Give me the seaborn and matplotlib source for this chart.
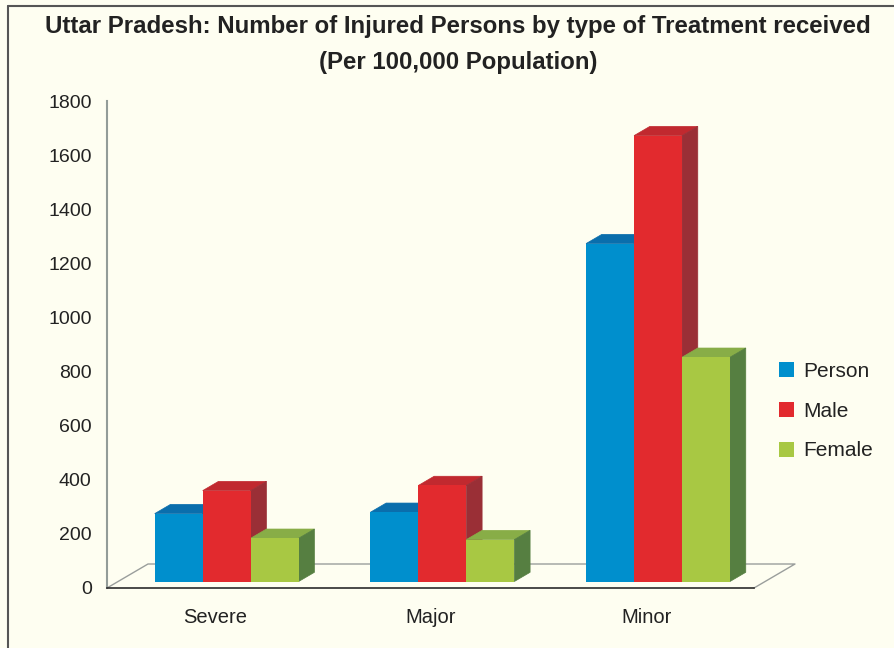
import pandas as pd
import numpy as np
import matplotlib
matplotlib.use("Agg")
import matplotlib.pyplot as plt
from matplotlib.patches import Polygon, Patch
from matplotlib.lines import Line2D
import seaborn as sns

# datos
categorias = ["Severe", "Major", "Minor"]
series = ["Person", "Male", "Female"]
person = [251, 256, 1249]
male = [336, 355, 1648]
female = [160, 155, 829]

frente = ['#008fcd', '#e22a2e', '#a8c843']
tapa = ['#0a6eac', '#c1292f', '#88ad47']
lado = ['#06659c', '#9a2f36', '#567f41']
fondo = '#fefef1'

sns.set_style("white")
plt.rcParams['font.family'] = ['Liberation Sans', 'DejaVu Sans']

df = pd.DataFrame({
    "cat": categorias * 3,
    "serie": ["Person"] * 3 + ["Male"] * 3 + ["Female"] * 3,
    "valor": person + male + female,
})

fig = plt.figure(figsize=(8.94, 6.48), dpi=100, facecolor=fondo)
ax = fig.add_axes([107/894, 60/648, 689/894, 487/648])
ax.set_facecolor(fondo)

sns.barplot(data=df, x="cat", y="valor", hue="serie", hue_order=series,
            palette=frente, saturation=1, width=0.6675, errorbar=None,
            linewidth=0, legend=False, ax=ax)

# efecto 3d
off_x, off_y = 0.055, 24     # la barra esta un poco dentro del piso
dx, dy = 0.073, 34          # profundidad de la barra
piso_x, piso_y = 0.19, 88.7  # profundidad del piso

for j, cont in enumerate(ax.containers):
    for p in cont.patches:
        p.set_x(p.get_x() + off_x)
        p.set_y(off_y)
        p.set_zorder(3)
        x0 = p.get_x()
        x1 = x0 + p.get_width()
        b = off_y
        h = b + p.get_height()
        top = Polygon([(x0, h), (x0 + dx, h + dy), (x1 + dx, h + dy), (x1, h)],
                      closed=True, fc=tapa[j], ec=tapa[j], lw=0.5, zorder=2)
        side = Polygon([(x1, b), (x1 + dx, b + dy), (x1 + dx, h + dy), (x1, h)],
                       closed=True, fc=lado[j], ec=lado[j], lw=0.5, zorder=2)
        ax.add_patch(top)
        ax.add_patch(side)

# piso
ax.plot([-0.5, -0.5 + piso_x, 2.5 + piso_x, 2.5], [0, piso_y, piso_y, 0],
        color='#9a9e9c', lw=1, zorder=1, clip_on=False)

ax.set_xlim(-0.5, -0.5 + 689/215.67)
ax.set_ylim(0, 1800)
ax.set_yticks(range(0, 1801, 200))
ax.set_xticks([-0.5, 0.5, 1.5, 2.5], labels=[])
ax.set_xticks([0, 1, 2], labels=categorias, minor=True)
ax.tick_params(axis='x', which='major', direction='out', length=6.5, width=1.2, color='#2b2b2b')
ax.tick_params(axis='x', which='minor', length=0, pad=14.5, labelsize=14.5, labelcolor='#222222')
ax.tick_params(axis='y', direction='out', length=7.2, width=1.2, color='#939c98',
               pad=3.8, labelsize=14, labelcolor='#222222')
ax.set_xlabel("")
ax.set_ylabel("")

for s in ['top', 'right']:
    ax.spines[s].set_visible(False)
ax.spines['left'].set_color('#939c98')
ax.spines['left'].set_linewidth(1.5)
ax.spines['bottom'].set_color('#2b2b2b')
ax.spines['bottom'].set_linewidth(1.2)
ax.spines['bottom'].set_bounds(-0.5, 2.5)
ax.grid(False)

# leyenda
handles = [Patch(facecolor=c, edgecolor='none') for c in frente]
fig.legend(handles, series, loc='upper left', bbox_to_anchor=(760/894, 1 - 343/648),
           frameon=False, fontsize=15, handlelength=0.72, handleheight=0.72,
           handletextpad=0.45, labelspacing=1.0, labelcolor='#222222')

# titulo
fig.text(458/894, 1 - 26/648,
         "Uttar Pradesh: Number of Injured Persons by type of Treatment received",
         ha='center', va='center', fontsize=17.3, fontweight='bold', color='#222222')
fig.text(458/894, 1 - 62/648, "(Per 100,000 Population)",
         ha='center', va='center', fontsize=17.3, fontweight='bold', color='#222222')

# marco
fig.add_artist(Line2D([8/894, 8/894], [0, 1 - 5.5/648], color='#555555', lw=1.5))
fig.add_artist(Line2D([8/894, 1], [1 - 5.5/648, 1 - 5.5/648], color='#555555', lw=1.5))

plt.savefig("out.png", dpi=100, facecolor=fondo)
